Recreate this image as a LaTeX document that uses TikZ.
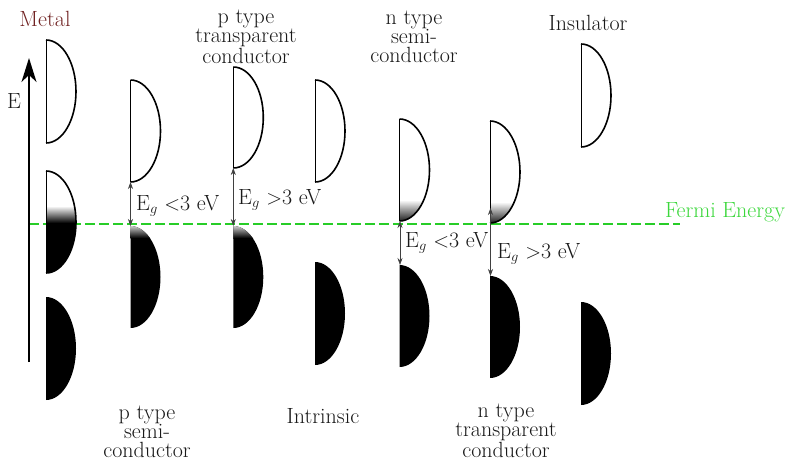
\documentclass[tikz,border=0pt]{standalone}
\usetikzlibrary{arrows.meta}
\definecolor{metalred}{RGB}{112,34,34}
\definecolor{fermigreen}{RGB}{40,205,40}
\definecolor{fermitext}{RGB}{60,215,60}
\definecolor{txt}{RGB}{25,25,25}
\newcommand{\bandp}[3]{(#1,#2) .. controls ({#1+16.57},#2) and ({#1+30},{0.5*(#2+#3)-0.27614*(#3-#2)}) .. ({#1+30},{0.5*(#2+#3)}) .. controls ({#1+30},{0.5*(#2+#3)+0.27614*(#3-#2)}) and ({#1+16.57},#3) .. (#1,#3) -- cycle}
\newcommand{\bandc}[3]{(#1,#2) .. controls ({#1+16.57},#2) and ({#1+30},{0.5*(#2+#3)-0.27614*(#3-#2)}) .. ({#1+30},{0.5*(#2+#3)}) .. controls ({#1+30},{0.5*(#2+#3)+0.27614*(#3-#2)}) and ({#1+16.57},#3) .. (#1,#3)}
% empty band
\newcommand{\emptyband}[3]{\draw[bandcurve] \bandc{#1}{#2}{#3}; \draw[bandedge] (#1,#2) -- (#1,#3);}
% full band
\newcommand{\fullband}[3]{\fill[black] \bandp{#1}{#2}{#3};}
\begin{document}
\begin{tikzpicture}[x=1pt,y=-1pt,
  every node/.style={font=\fontsize{22}{19}\selectfont, inner sep=0pt, text=txt},
  bandcurve/.style={line width=1.6pt},
  bandedge/.style={line width=0.9pt},
  gaparrow/.style={{Stealth[length=7pt,width=5pt]}-{Stealth[length=7pt,width=5pt]}, line width=0.6pt, draw=black!75},
  axisarrow/.style={-{Stealth[length=24pt,width=15pt,inset=7pt]}, line width=1.4pt},
  fermiline/.style={draw=fermigreen, line width=1.4pt, dash pattern=on 10pt off 4pt},
  lbl/.style={align=center, anchor=base}]
\useasboundingbox (0,0) rectangle (787,463);

% Fermi level
\coordinate (f0) at (29,224);
\coordinate (f1) at (680,224);
\draw[fermiline] (f0) -- (f1);
\node[anchor=base, text=fermitext] (fermi) at (725,217) {Fermi Energy};

% energy axis
\coordinate (axb) at (29,362);
\coordinate (axt) at (29,58);
\draw[axisarrow] (axb) -- (axt);
\node (E) at (14,101) {E};

% ---- Metal
\emptyband{46}{40}{143}
\begin{scope}
  \clip \bandp{46}{171}{273};
  \shade[top color=white, bottom color=black] (45,206) rectangle (78,223);
  \fill[black] (45,222.5) rectangle (78,274);
\end{scope}
\emptyband{46}{171}{273}
\fullband{46}{297}{400}
\node[lbl, text=metalred] (metal) at (45,27) {Metal};

% ---- p type semiconductor
\emptyband{130.5}{80}{182}
\begin{scope}
  \clip \bandp{130.5}{226}{328};
  \fill[black] (129,226) rectangle (162,330);
  \shade[top color=white!85!black, bottom color=black] (129,225) rectangle (162,238);
\end{scope}
\coordinate (pS-c) at (130.5,182);
\coordinate (pS-v) at (130.5,226);
\draw[gaparrow] (pS-c) -- (pS-v);
\node[anchor=base west] (pS-gap) at (136,210) {E$_g$ $<$3 eV};
\node[lbl] (pS-lbl) at (147,457) {p type\\semi-\\conductor};

% ---- p type transparent conductor
\emptyband{233.3}{67}{168}
\begin{scope}
  \clip \bandp{233.3}{226}{328};
  \fill[black] (232,226) rectangle (265,330);
  \shade[top color=white!85!black, bottom color=black] (232,225) rectangle (265,238);
\end{scope}
\coordinate (pT-c) at (233.3,168);
\coordinate (pT-v) at (233.3,226);
\draw[gaparrow] (pT-c) -- (pT-v);
\node[anchor=base west] (pT-gap) at (238,204) {E$_g$ $>$3 eV};
\node[lbl] (pT-lbl) at (246,63) {p type\\transparent\\conductor};

% ---- Intrinsic
\emptyband{315}{80}{182}
\fullband{315}{262}{365}
\node[lbl] (in-lbl) at (323,423) {Intrinsic};

% ---- n type semiconductor
\begin{scope}
  \clip \bandp{399.5}{119}{221};
  \shade[top color=white, bottom color=black] (398,200) rectangle (432,224);
\end{scope}
\emptyband{399.5}{119}{221}
\fullband{399.5}{265}{367}
\coordinate (nS-c) at (400,221);
\coordinate (nS-v) at (400,265);
\draw[gaparrow] (nS-c) -- (nS-v);
\node[anchor=base west] (nS-gap) at (405,247) {E$_g$ $<$3 eV};
\node[lbl] (nS-lbl) at (414,62) {n type\\semi-\\conductor};

% ---- n type transparent conductor
\begin{scope}
  \clip \bandp{490}{121}{223};
  \shade[top color=white, bottom color=black] (489,202) rectangle (522,226);
\end{scope}
\emptyband{490}{121}{223}
\fullband{490}{276}{378}
\coordinate (nT-c) at (490.5,208);
\coordinate (nT-v) at (490.5,276);
\draw[gaparrow] (nT-c) -- (nT-v);
\node[anchor=base west] (nT-gap) at (497,258) {E$_g$ $>$3 eV};
\node[lbl] (nT-lbl) at (506,457) {n type\\transparent\\conductor};

% ---- Insulator
\emptyband{581}{44}{147}
\fullband{581}{302}{405}
\node[lbl] (ins-lbl) at (588,30) {Insulator};
\end{tikzpicture}
\end{document}
